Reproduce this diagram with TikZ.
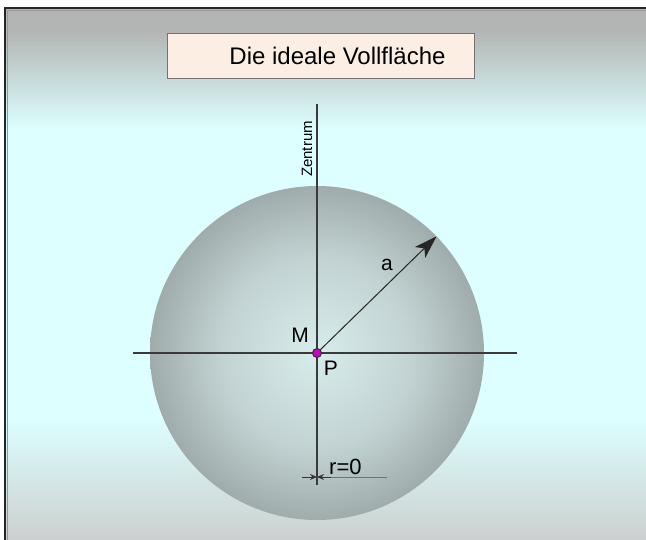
\documentclass[tikz,border=0pt]{standalone}
\usepackage{fontspec}
\setmainfont{Liberation Sans}
\usetikzlibrary{arrows.meta, positioning, calc}
\definecolor{bgtop}{HTML}{B2B5B3}
\definecolor{bgcyan}{HTML}{DDFFFF}
\definecolor{bgbot}{HTML}{CDD0D0}
\definecolor{ballin}{HTML}{D8ECEC}
\definecolor{ballmid}{HTML}{C3D3D3}
\definecolor{ballout}{HTML}{A0ACAC}
\definecolor{titlefill}{HTML}{FDEEE3}
\definecolor{axisgray}{HTML}{3A3A3A}
\definecolor{dotpink}{HTML}{C800C8}
\pgfdeclareverticalshading{bgshade}{100bp}{color(0bp)=(bgbot); color(27bp)=(bgbot);
  color(38bp)=(bgcyan); color(64bp)=(bgcyan); color(73bp)=(bgtop); color(100bp)=(bgtop)}
\pgfdeclareradialshading{ballshade}{\pgfpoint{0bp}{0bp}}{color(0bp)=(ballin); color(14bp)=(ballmid);
  color(25bp)=(ballout); color(50bp)=(ballout)}

\begin{document}
\begin{tikzpicture}[x=1pt, y=-1pt,
    axisline/.style={line width=1.4pt, axisgray},
    lbl/.style={font=\fontsize{21}{21}\selectfont, inner sep=1pt},
]
    \clip (0,0) rectangle (646,539);
    \useasboundingbox (0,0) rectangle (646,539);
    \fill[white] (0,0) rectangle (646,539);

    % background and frame
    \shade[shading=bgshade] (5,8) rectangle (660,560);
    \draw[line width=2.4pt, black!85] (5,560) -- (5,8) -- (660,8);
    \draw[line width=1pt, black!40] (7.5,560) -- (7.5,10.5) -- (660,10.5);

    % title
    \node[draw=black!55, line width=0.9pt, fill=titlefill, minimum width=307pt, minimum height=45pt,
        font=\fontsize{24}{24}\selectfont] (title) at (320.5,55.5) {\hspace*{34pt}Die ideale Vollfläche};

    % sphere
    \coordinate (M) at (317,353);
    \shade[shading=ballshade] (M) circle[radius=167];

    % axes
    \coordinate (axisL) at (133,353);
    \coordinate (axisR) at (517,353);
    \coordinate (axisT) at (317,104);
    \coordinate (axisB) at (317,485);
    \draw[axisline] (axisL) -- (axisR);
    \draw[axisline] (axisT) -- (axisB);
    \node[rotate=90, font=\fontsize{15}{15}\selectfont, inner sep=0pt] (zentrum) at (307,149) {Zentrum};

    % radius a
    \coordinate (rim) at ($(M)+(-44.3:167)$);
    \draw[line width=1pt, black!85, -{Stealth[length=23pt, width=15pt, inset=6pt]}] (M) -- (rim);
    \node[lbl] (alabel) at (387,265) {a};

    % center point
    \node[lbl] (mlabel) at (300,335) {M};
    \node[lbl] (plabel) at (331,368) {P};
    \node[circle, draw=black!80, line width=1pt, fill=dotpink, inner sep=0pt, minimum size=9pt] (dot) at (M) {};

    % r=0
    \coordinate (dimL) at (302,477);
    \coordinate (dimM) at (317,477);
    \coordinate (dimR) at (387,477);
    \draw[line width=1pt, black!80, -{Stealth[length=7pt, width=6pt]}] (dimL) -- (dimM);
    \draw[line width=1pt, black!55] (dimR) -- (dimM);
    \draw[line width=1pt, black!80, -{Stealth[length=7pt, width=6pt]}] ($(dimM)+(14,0)$) -- (dimM);
    \node[lbl, font=\fontsize{22}{22}\selectfont, anchor=south west] (rlabel) at (328,476) {r=0};
\end{tikzpicture}
\end{document}
